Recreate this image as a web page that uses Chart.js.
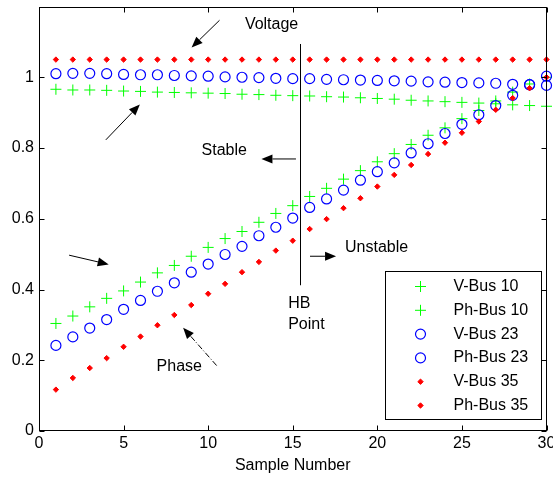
<!DOCTYPE html>
<html>
<head>
<meta charset="utf-8">
<title>Voltage and phase vs sample number</title>
<script src="https://cdn.jsdelivr.net/npm/chart.js@4.4.0/dist/chart.umd.min.js"></script>
<style>
  body { margin: 0; background: #fff; }
  canvas { display: block; }
</style>
</head>
<body>
<canvas id="chart" width="553" height="479"></canvas>
<script>
const sampleNumbers = [1, 2, 3, 4, 5, 6, 7, 8, 9, 10, 11, 12, 13, 14, 15, 16, 17, 18, 19, 20, 21, 22, 23, 24, 25, 26, 27, 28, 29, 30];

const vBus10 = [0.966, 0.964, 0.964, 0.963, 0.961, 0.960, 0.958, 0.957, 0.956, 0.955, 0.954, 0.952, 0.951, 0.949, 0.948,
                0.947, 0.945, 0.944, 0.942, 0.940, 0.938, 0.935, 0.933, 0.931, 0.929, 0.927, 0.925, 0.922, 0.920, 0.918];
const phBus10 = [0.304, 0.325, 0.351, 0.375, 0.396, 0.421, 0.447, 0.468, 0.494, 0.519, 0.544, 0.564, 0.590, 0.615, 0.637,
                 0.663, 0.686, 0.712, 0.736, 0.761, 0.784, 0.810, 0.836, 0.857, 0.883, 0.906, 0.933, 0.958, 0.981, 1.000];
const vBus23 = [1.010, 1.011, 1.011, 1.010, 1.008, 1.007, 1.007, 1.005, 1.004, 1.003, 1.001, 1.000, 0.999, 0.997, 0.996,
                0.996, 0.994, 0.993, 0.992, 0.991, 0.990, 0.989, 0.987, 0.986, 0.985, 0.984, 0.983, 0.980, 0.979, 0.977];
const phBus23 = [0.242, 0.266, 0.291, 0.315, 0.344, 0.369, 0.395, 0.419, 0.449, 0.472, 0.499, 0.522, 0.552, 0.576, 0.602,
                 0.632, 0.656, 0.681, 0.709, 0.733, 0.758, 0.786, 0.812, 0.841, 0.867, 0.894, 0.920, 0.949, 0.979, 1.003];
const vBus35 = [1.05, 1.05, 1.05, 1.05, 1.05, 1.05, 1.05, 1.05, 1.05, 1.05, 1.05, 1.05, 1.05, 1.05, 1.05,
                1.05, 1.05, 1.05, 1.05, 1.05, 1.05, 1.05, 1.05, 1.05, 1.05, 1.05, 1.05, 1.05, 1.05, 1.05];
const phBus35 = [0.117, 0.150, 0.178, 0.206, 0.238, 0.267, 0.299, 0.328, 0.356, 0.388, 0.416, 0.449, 0.478, 0.510, 0.538,
                 0.571, 0.599, 0.630, 0.658, 0.691, 0.724, 0.752, 0.783, 0.815, 0.843, 0.875, 0.908, 0.941, 0.969, 1.000];

const seriesNames = ["V-Bus 10", "Ph-Bus 10", "V-Bus 23", "Ph-Bus 23", "V-Bus 35", "Ph-Bus 35"];
const xTicks = [0, 5, 10, 15, 20, 25, 30];
const yTicks = [0, 0.2, 0.4, 0.6, 0.8, 1, 1.2];

const FONT = '"Liberation Sans", Arial, Helvetica, sans-serif';
Chart.defaults.font.family = FONT;
Chart.defaults.color = "#000";

function points(ys) {
  return sampleNumbers.map((x, i) => ({ x: x, y: ys[i] }));
}

function greenCross(label, ys) {
  return { label, data: points(ys), pointStyle: "cross", pointRadius: 5.5, borderColor: "#00ff00",
           backgroundColor: "#00ff00", pointBorderWidth: 1, showLine: false, clip: false, order: 3 };
}
function blueCircle(label, ys) {
  return { label, data: points(ys), pointStyle: "circle", pointRadius: 5, borderColor: "#0000ff",
           backgroundColor: "rgba(0,0,0,0)", pointBorderWidth: 1.2, showLine: false, clip: false, order: 2 };
}
function redDot(label, ys) {
  return { label, data: points(ys), pointStyle: "rectRot", pointRadius: 2.7, borderColor: "#ff0000",
           backgroundColor: "#ff0000", pointBorderWidth: 1, showLine: false, clip: false, order: 1 };
}

// arrow with a filled head at (x2, y2)
function arrow(ctx, x1, y1, x2, y2, dash) {
  const ang = Math.atan2(y2 - y1, x2 - x1);
  const len = 11, half = 4.5;
  const bx = x2 - len * Math.cos(ang), by = y2 - len * Math.sin(ang);
  ctx.save();
  ctx.strokeStyle = "#000";
  ctx.fillStyle = "#000";
  ctx.lineWidth = 1;
  ctx.setLineDash(dash || []);
  ctx.beginPath();
  ctx.moveTo(x1, y1);
  ctx.lineTo(bx, by);
  ctx.stroke();
  ctx.setLineDash([]);
  ctx.beginPath();
  ctx.moveTo(x2, y2);
  ctx.lineTo(bx + half * Math.sin(ang), by - half * Math.cos(ang));
  ctx.lineTo(bx - half * Math.sin(ang), by + half * Math.cos(ang));
  ctx.closePath();
  ctx.fill();
  ctx.restore();
}

const matlabLook = {
  id: "matlabLook",
  afterDatasetsDraw(chart) {
    const { ctx, chartArea: a, scales } = chart;
    const sx = scales.x, sy = scales.y;
    const X = v => sx.getPixelForValue(v);
    const Y = v => sy.getPixelForValue(v);
    const L = Math.round(a.left) + 0.5, R = Math.round(a.right) - 0.5;
    const T = Math.round(a.top) + 0.5, B = Math.round(a.bottom) - 0.5;

    ctx.save();
    ctx.strokeStyle = "#000";
    ctx.lineWidth = 1;
    ctx.strokeRect(L, T, R - L, B - T);
    ctx.beginPath();
    xTicks.forEach(v => {
      const p = Math.round(X(v)) + 0.5;
      ctx.moveTo(p, B); ctx.lineTo(p, B - 5);
      ctx.moveTo(p, T); ctx.lineTo(p, T + 5);
    });
    yTicks.forEach(v => {
      const p = Math.round(Y(v)) + 0.5;
      ctx.moveTo(L, p); ctx.lineTo(L + 5, p);
      ctx.moveTo(R, p); ctx.lineTo(R - 5, p);
    });
    ctx.stroke();

    // HB point line
    const hx = Math.round(X(15.4)) + 0.5;
    ctx.beginPath();
    ctx.moveTo(hx, Y(1.094));
    ctx.lineTo(hx, Y(0.412));
    ctx.stroke();

    ctx.fillStyle = "#000";
    ctx.font = "16px " + FONT;
    ctx.textBaseline = "middle";
    ctx.textAlign = "left";
    ctx.fillText("Voltage", X(12.17), Y(1.150));
    ctx.fillText("Stable", X(9.61), Y(0.794));
    ctx.fillText("Unstable", X(18.09), Y(0.519));
    ctx.fillText("HB", X(14.73), Y(0.360));
    ctx.fillText("Point", X(14.73), Y(0.300));
    ctx.fillText("Phase", X(6.95), Y(0.182));
    ctx.restore();

    arrow(ctx, X(10.67), Y(1.161), X(9.02), Y(1.084));
    arrow(ctx, X(3.95), Y(0.823), X(5.96), Y(0.923));
    arrow(ctx, X(15.19), Y(0.769), X(13.15), Y(0.769));
    arrow(ctx, X(16.02), Y(0.494), X(17.56), Y(0.494));
    arrow(ctx, X(1.78), Y(0.497), X(4.12), Y(0.471));
    arrow(ctx, X(10.50), Y(0.185), X(8.52), Y(0.292), [6, 2, 1, 2]);

    // legend box
    const lw = 156, lh = 148;
    const lx = Math.round(a.right - 6 - lw) + 0.5, ly = Math.round(a.bottom - 12 - lh) + 0.5;
    ctx.save();
    ctx.fillStyle = "#fff";
    ctx.fillRect(lx, ly, lw, lh);
    ctx.strokeStyle = "#000";
    ctx.lineWidth = 1;
    ctx.strokeRect(lx, ly, lw, lh);
    ctx.font = "16px " + FONT;
    ctx.textBaseline = "middle";
    ctx.textAlign = "left";
    chart.data.datasets.forEach((ds, i) => {
      const cy = ly + 15 + i * 23.8;
      ctx.strokeStyle = ds.borderColor;
      ctx.fillStyle = ds.backgroundColor;
      ctx.lineWidth = ds.pointBorderWidth;
      Chart.helpers.drawPoint(ctx, { pointStyle: ds.pointStyle, radius: ds.pointRadius,
        borderWidth: ds.pointBorderWidth, rotation: 0 }, lx + 35, cy);
      ctx.fillStyle = "#000";
      ctx.fillText(ds.label, lx + 68, cy);
    });
    ctx.restore();
  }
};

new Chart(document.getElementById("chart"), {
  type: "scatter",
  data: {
    datasets: [
      greenCross(seriesNames[0], vBus10),
      greenCross(seriesNames[1], phBus10),
      blueCircle(seriesNames[2], vBus23),
      blueCircle(seriesNames[3], phBus23),
      redDot(seriesNames[4], vBus35),
      redDot(seriesNames[5], phBus35)
    ]
  },
  options: {
    responsive: false,
    animation: false,
    layout: { padding: { top: 3, right: 6, bottom: 4, left: 0 } },
    plugins: { legend: { display: false }, tooltip: { enabled: false } },
    scales: {
      x: {
        type: "linear",
        min: 0, max: 30,
        grid: { display: false, drawTicks: false },
        border: { display: false },
        ticks: { stepSize: 5, padding: 3, font: { size: 16 }, color: "#000", maxRotation: 0 },
        title: { display: true, text: "Sample Number", font: { size: 16 }, color: "#000", padding: { top: 0, bottom: 0 } },
        afterFit(scale) { scale.height = 44; scale.paddingLeft = 0; scale.paddingRight = 0; }
      },
      y: {
        min: 0, max: 1.2,
        grid: { display: false, drawTicks: false },
        border: { display: false },
        ticks: {
          stepSize: 0.2, padding: 5, font: { size: 16 }, color: "#000",
          callback: v => (v > 1.01 ? null : String(Math.round(v * 10) / 10))
        },
        afterFit(scale) { scale.width = 39; scale.paddingTop = 0; scale.paddingBottom = 0; }
      }
    }
  },
  plugins: [matlabLook]
});
</script>
</body>
</html>
